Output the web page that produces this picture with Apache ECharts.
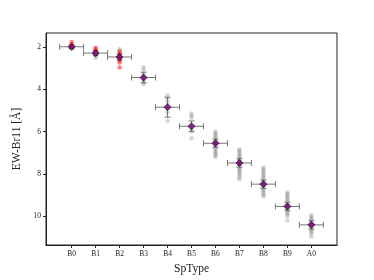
<!DOCTYPE html>
<html><head><meta charset="utf-8">
<script src="https://cdn.jsdelivr.net/npm/echarts@6/dist/echarts.min.js"></script>
<style>html,body{margin:0;padding:0;background:#fff}#c{width:374px;height:280px}</style>
</head><body><div id="c"></div>
<script>
var types = ['B0','B1','B2','B3','B4','B5','B6','B7','B8','B9','A0'];
var meanEW = [2.0, 2.3, 2.48, 3.45, 4.85, 5.75, 6.55, 7.48, 8.48, 9.53, 10.4];
var errEW = [0.08, 0.1, 0.15, 0.25, 0.47, 0.25, 0.2, 0.2, 0.2, 0.2, 0.2];
var errType = [0.5, 0.5, 0.5, 0.5, 0.5, 0.5, 0.5, 0.5, 0.5, 0.5, 0.5];
var yTicks = [2, 4, 6, 8, 10];
var greyB0 = [1.95, 2.0, 2.05, 2.1];
var greyB1 = [2.25, 2.35, 2.45, 2.52];
var greyB2 = [2.12, 2.2, 2.3, 2.4, 2.55, 2.6];
var greyB3 = [2.98, 3.08, 3.3, 3.55, 3.67, 3.75];
var greyB4 = [4.3, 4.45, 4.6, 5.1, 5.5];
var greyB5 = [5.15, 5.25, 5.35, 5.9, 6.0, 6.31];
var greyB6 = [6.0, 6.08, 6.15, 6.22, 6.3, 6.38, 6.45, 6.52, 6.6, 6.68, 6.75, 6.82, 6.9, 6.98, 7.05, 7.12, 7.2];
var greyB7 = [6.84, 6.92, 7.0, 7.08, 7.15, 7.22, 7.3, 7.38, 7.45, 7.52, 7.6, 7.68, 7.75, 7.82, 7.9, 7.98, 8.05, 8.15, 8.25];
var greyB8 = [7.7, 7.78, 7.86, 7.94, 8.02, 8.1, 8.18, 8.26, 8.34, 8.42, 8.5, 8.58, 8.66, 8.74, 8.82, 8.9, 8.98, 9.05];
var greyB9 = [8.87, 8.95, 9.03, 9.1, 9.18, 9.26, 9.34, 9.42, 9.5, 9.58, 9.66, 9.74, 9.82, 9.9, 9.98, 10.19];
var greyA0 = [9.95, 10.03, 10.1, 10.18, 10.26, 10.34, 10.42, 10.5, 10.58, 10.66, 10.74, 10.82, 10.96];
var redB0 = [1.78, 1.88, 1.95];
var redB1 = [2.05, 2.12, 2.2, 2.28];
var redB2 = [2.22, 2.35, 2.45, 2.55, 2.65, 2.74, 2.98];

var greyAll = [greyB0, greyB1, greyB2, greyB3, greyB4, greyB5, greyB6, greyB7, greyB8, greyB9, greyA0];
var redAll = [redB0, redB1, redB2];
function pts(groups) {
  var out = [];
  groups.forEach(function (g, i) { g.forEach(function (v) { out.push([i, v]); }); });
  return out;
}
var errData = types.map(function (t, i) { return [i, meanEW[i], errType[i], errEW[i]]; });
var meanData = types.map(function (t, i) { return [i, meanEW[i]]; });
var font = 'Liberation Serif';

var chart = echarts.init(document.getElementById('c'), null, {renderer: 'canvas'});
chart.setOption({
  animation: false,
  grid: {left: 46, right: 37, top: 33, bottom: 32, show: true, borderColor: '#222', borderWidth: 1, backgroundColor: 'transparent'},
  xAxis: {
    type: 'value', min: -1.07, max: 11.07,
    name: 'SpType', nameLocation: 'middle', nameGap: 18,
    nameTextStyle: {fontFamily: font, fontSize: 11.5, color: '#222'},
    axisLine: {show: true, onZero: false, lineStyle: {color: '#222', width: 1}},
    axisTick: {show: true, length: 3, lineStyle: {color: '#222'}, customValues: types.map(function (t, i) { return i; })},
    axisLabel: {fontFamily: font, fontSize: 7.5, color: '#222', margin: 5,
      customValues: types.map(function (t, i) { return i; }),
      formatter: function (v) { return types[Math.round(v)]; }},
    splitLine: {show: false}
  },
  yAxis: {
    type: 'value', inverse: true, min: 1.35, max: 11.35,
    name: 'EW-Br11 [Å]', nameLocation: 'middle', nameGap: 21,
    nameTextStyle: {fontFamily: font, fontSize: 11.5, color: '#222'},
    axisLine: {show: true, onZero: false, lineStyle: {color: '#222', width: 1}},
    axisTick: {show: true, length: 3, lineStyle: {color: '#222'}, customValues: yTicks},
    axisLabel: {fontFamily: font, fontSize: 7.5, color: '#222', margin: 5, customValues: yTicks},
    splitLine: {show: false}
  },
  series: [
    {type: 'scatter', data: pts(greyAll), symbol: 'circle', symbolSize: 4.5,
     itemStyle: {color: 'rgba(128,128,128,0.4)'}, z: 2},
    {type: 'scatter', data: pts(redAll), symbol: 'circle', symbolSize: 4.5,
     itemStyle: {color: 'rgba(255,0,0,0.6)'}, z: 3},
    {type: 'custom', data: errData, z: 4,
     renderItem: function (params, api) {
       var x = api.value(0), y = api.value(1), ex = api.value(2), ey = api.value(3);
       var l = api.coord([x - ex, y]), r = api.coord([x + ex, y]);
       var t = api.coord([x, y - ey]), b = api.coord([x, y + ey]);
       var cap = 3;
       var st = {stroke: '#777', lineWidth: 1, fill: null};
       return {type: 'group', children: [
         {type: 'line', shape: {x1: l[0], y1: l[1], x2: r[0], y2: r[1]}, style: st},
         {type: 'line', shape: {x1: l[0], y1: l[1] - cap, x2: l[0], y2: l[1] + cap}, style: st},
         {type: 'line', shape: {x1: r[0], y1: r[1] - cap, x2: r[0], y2: r[1] + cap}, style: st},
         {type: 'line', shape: {x1: t[0], y1: t[1], x2: b[0], y2: b[1]}, style: st},
         {type: 'line', shape: {x1: t[0] - cap, y1: t[1], x2: t[0] + cap, y2: t[1]}, style: st},
         {type: 'line', shape: {x1: b[0] - cap, y1: b[1], x2: b[0] + cap, y2: b[1]}, style: st}
       ]};
     }},
    {type: 'scatter', data: meanData, symbol: 'diamond', symbolSize: 7, z: 5,
     itemStyle: {color: '#800080', borderColor: '#000', borderWidth: 0.8}}
  ]
});
</script></body></html>
